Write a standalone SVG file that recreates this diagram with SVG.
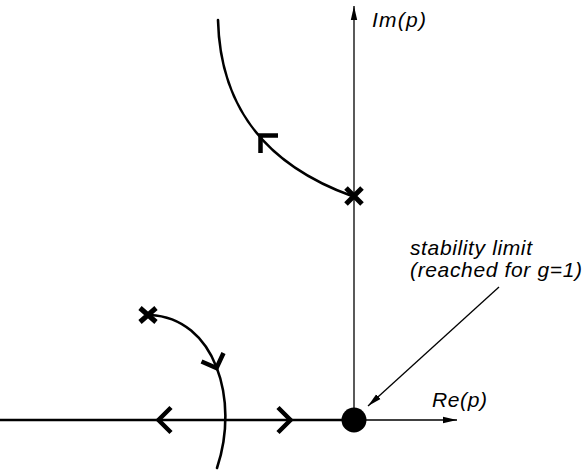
<svg xmlns="http://www.w3.org/2000/svg" width="586" height="475" viewBox="0 0 586 475">
<style>
.thin{stroke:#000;stroke-width:1.3;fill:none}
.curve{stroke:#000;stroke-width:2.6;fill:none;stroke-linecap:round}
.chev{stroke:#000;stroke-width:4.5;fill:none;stroke-linecap:butt;stroke-linejoin:miter}
.cross{stroke:#000;stroke-width:5;fill:none}
.lbl{font-family:"Liberation Sans",Arial,sans-serif;font-style:italic;font-size:21px;fill:#000}
</style>
<defs>
<marker id="ah" viewBox="0 0 14 8" refX="14" refY="4" markerWidth="14" markerHeight="8" markerUnits="userSpaceOnUse" orient="auto">
<path d="M0,0.8 L14,4 L0,7.2 Z" fill="#000"/>
</marker>
</defs>
<rect width="586" height="475" fill="#fff"/>
<g id="connectors">
<line id="re-axis" class="thin" x1="354" y1="420" x2="457" y2="420" marker-end="url(#ah)"/>
<line id="im-axis" class="thin" x1="354" y1="420" x2="354" y2="6" marker-end="url(#ah)"/>
<line id="real-locus" class="curve" x1="0" y1="420" x2="354" y2="420" style="stroke-linecap:butt"/>
<path id="upper-locus" class="curve" d="M218,20 C220,100 258,162 352,196"/>
<path id="lower-locus" class="curve" d="M150,315 C215,318 240,400 217,468"/>
<line id="limit-pointer" class="thin" x1="499" y1="287" x2="368" y2="406" marker-end="url(#ah)"/>
<path class="chev" d="M171,407.5 L158.5,420 L171,432.5"/>
<path class="chev" d="M278,407.5 L290.5,420 L278,432.5"/>
<path class="chev" d="M201.5,361.5 L216.5,368 L223.5,353"/>
<path class="chev" d="M278,135.5 L260.5,135.5 L260.5,153"/>
</g>
<g id="pole-upper">
<path class="cross" d="M346,188 L362,204 M362,188 L346,204"/>
</g>
<g id="pole-left">
<path class="cross" d="M140,308 L156,322 M156,308 L140,322"/>
</g>
<g id="stability-point">
<circle cx="354" cy="420" r="12.5" fill="#000"/>
</g>
<g id="labels">
<text class="lbl" x="372" y="27" textLength="54">Im(p)</text>
<text class="lbl" x="432" y="407" textLength="55">Re(p)</text>
<text class="lbl" x="410" y="255" textLength="122">stability limit</text>
<text class="lbl" x="410" y="277" textLength="172">(reached for g=1)</text>
</g>
</svg>
